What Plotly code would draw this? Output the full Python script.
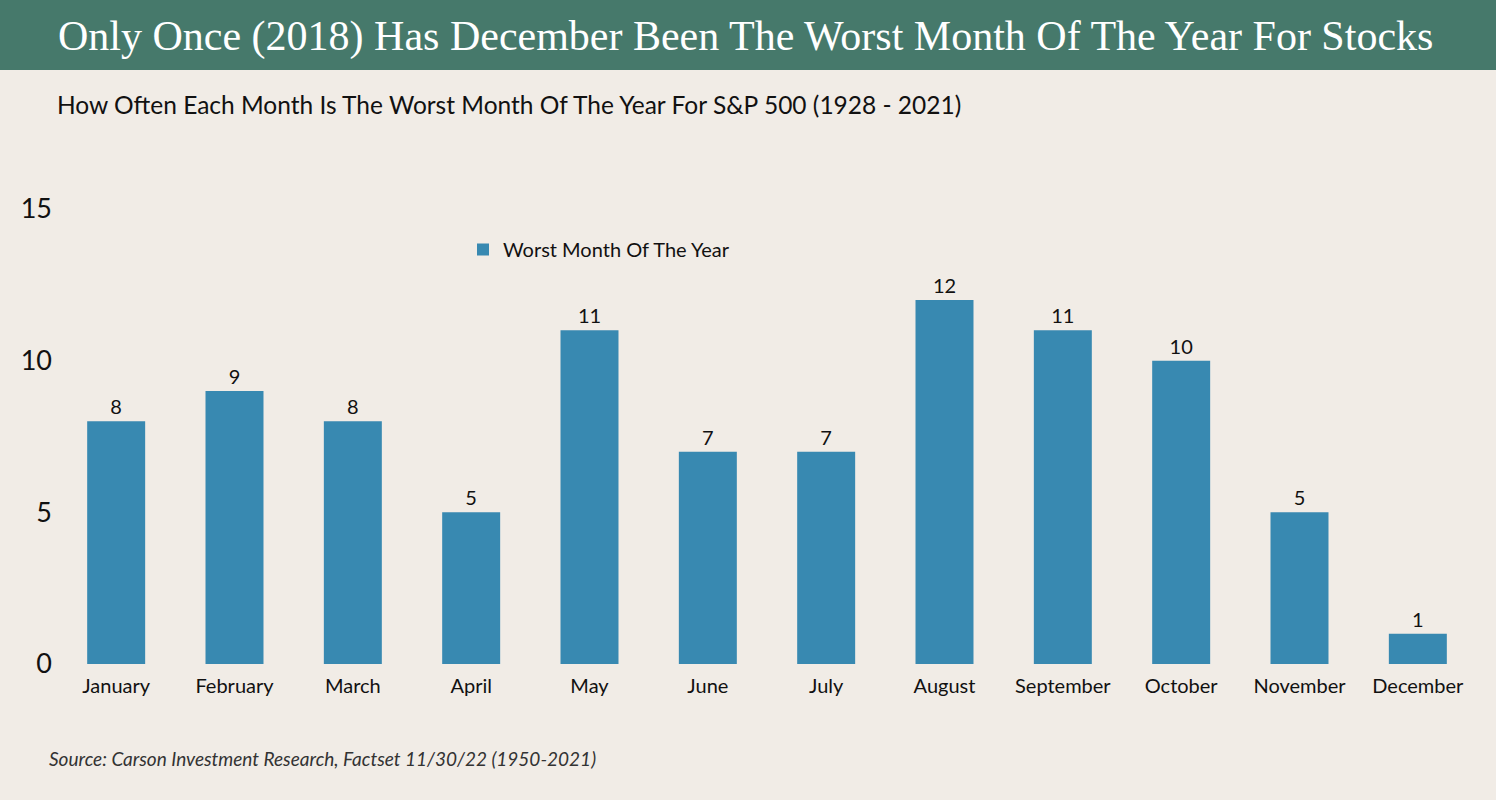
import plotly.graph_objects as go

months = ["January", "February", "March", "April", "May", "June", "July",
          "August", "September", "October", "November", "December"]
worst_counts = [8, 9, 8, 5, 11, 7, 7, 12, 11, 10, 5, 1]
y_ticks = [0, 5, 10, 15]

W, H = 1496, 800
L, R, T, B = 57, 19, 209, 136
ph = H - T - B
pw = W - L - R

def py(p):
    return (H - B - p) / ph

def px(p):
    return (p - L) / pw

fig = go.Figure()
fig.add_trace(go.Bar(
    x=months, y=worst_counts, name="Worst Month Of The Year",
    marker=dict(color="#3889B1", line=dict(width=0)),
    text=worst_counts, textposition="outside",
    textfont=dict(family="Lato", size=20, color="#111"),
    cliponaxis=False,
))

fig.update_layout(
    width=W, height=H,
    margin=dict(l=L, r=R, t=T, b=B),
    paper_bgcolor="#F1ECE6", plot_bgcolor="rgba(0,0,0,0)",
    bargap=0.51,
    showlegend=True,
    legend=dict(x=px(463), y=py(230), xanchor="left", yanchor="top",
                font=dict(family="Lato", size=20, color="#111"),
                bgcolor="rgba(0,0,0,0)"),
    xaxis=dict(showgrid=False, showline=False, zeroline=False,
               tickfont=dict(family="Lato", size=20, color="#111"),
               ticks="", range=[-0.5, 11.5], ticklabelstandoff=8),
    yaxis=dict(range=[0, 15], tickvals=y_ticks, showgrid=False, zeroline=False,
               showline=False, tickfont=dict(family="Lato", size=27, color="#111"),
               ticks="", ticklabelstandoff=4),
    shapes=[dict(type="rect", xref="paper", yref="paper",
                 x0=px(0), x1=px(W), y0=py(70), y1=py(0),
                 fillcolor="#46796B", line=dict(width=0), layer="below")],
    annotations=[
        dict(text="Only Once (2018) Has December Been The Worst Month Of The Year For Stocks",
             xref="paper", yref="paper", x=px(745), y=py(36), xanchor="center", yanchor="middle",
             showarrow=False, font=dict(family="Liberation Serif", size=42, color="white")),
        dict(text="How Often Each Month Is The Worst Month Of The Year For S&P 500 (1928 - 2021)",
             xref="paper", yref="paper", x=px(55), y=py(105), xanchor="left", yanchor="middle",
             showarrow=False, font=dict(family="Lato", size=24.5, color="#111")),
        dict(text="<i>Source: Carson Investment Research, Factset 11/30/22 (1950-2021)</i>",
             xref="paper", yref="paper", x=px(47), y=py(758), xanchor="left", yanchor="middle",
             showarrow=False, font=dict(family="Lato", size=19, color="#333")),
    ],
)

fig.write_html("out.html", config={"displayModeBar": False},
               post_script="document.body.style.margin='0';")
